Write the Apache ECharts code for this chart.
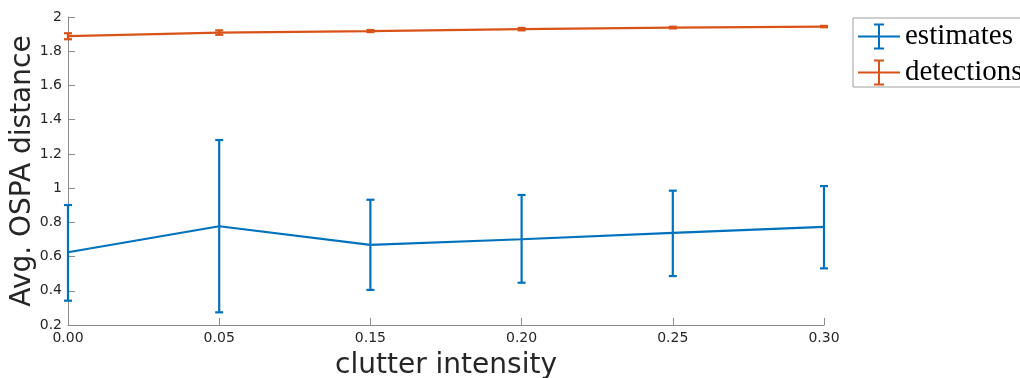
<!DOCTYPE html>
<html>
<head>
<meta charset="utf-8">
<script src="https://cdn.jsdelivr.net/npm/echarts@6/dist/echarts.min.js"></script>
<style>
  html, body { margin: 0; padding: 0; background: #fff; }
  #chart { width: 1020px; height: 378px; }
</style>
</head>
<body>
<div id="chart"></div>
<script>
// Clutter intensity levels (x categories)
const clutter = ['0.00', '0.05', '0.15', '0.20', '0.25', '0.30'];

// Average OSPA distance of the filter estimates, with error-bar limits
const estMean = [0.625, 0.777, 0.668, 0.701, 0.738, 0.773];
const estLow  = [0.342, 0.274, 0.405, 0.447, 0.486, 0.531];
const estHigh = [0.901, 1.281, 0.932, 0.960, 0.985, 1.012];

// Average OSPA distance of the raw detections, with error-bar limits
const detMean = [1.888, 1.909, 1.918, 1.929, 1.938, 1.944];
const detLow  = [1.870, 1.896, 1.912, 1.922, 1.933, 1.940];
const detHigh = [1.905, 1.922, 1.924, 1.936, 1.943, 1.948];

const BLUE = '#0072BD';
const ORANGE = '#D95319';

// Legend glyph: horizontal line crossed by a capped vertical bar
const errIcon = 'path://M0,12h42v2h-42z M20,0h2v26h-2z M16,0h10v2h-10z M16,24h10v2h-10z';

function errorBars(low, high, color, name) {
  return {
    name: name,
    type: 'custom',
    z: 3,
    data: clutter.map((c, i) => [i, low[i], high[i]]),
    renderItem: function (params, api) {
      const x = api.value(0);
      const p0 = api.coord([x, api.value(1)]);
      const p1 = api.coord([x, api.value(2)]);
      const cap = 4;
      const style = { stroke: color, lineWidth: 2.2, fill: null };
      return {
        type: 'group',
        children: [
          { type: 'line', shape: { x1: p0[0], y1: p0[1], x2: p1[0], y2: p1[1] }, style: style },
          { type: 'line', shape: { x1: p0[0] - cap, y1: p0[1], x2: p0[0] + cap, y2: p0[1] }, style: style },
          { type: 'line', shape: { x1: p1[0] - cap, y1: p1[1], x2: p1[0] + cap, y2: p1[1] }, style: style }
        ]
      };
    }
  };
}

const chart = echarts.init(document.getElementById('chart'), null, { renderer: 'canvas' });

chart.setOption({
  animation: false,
  backgroundColor: '#fff',
  grid: { left: 68, right: 196, top: 17, bottom: 53, containLabel: false, outerBoundsMode: 'none' },
  legend: {
    orient: 'vertical',
    left: 853,
    top: 18,
    padding: [4, 8, 0, 5],
    itemGap: 7,
    itemWidth: 42,
    itemHeight: 26,
    borderColor: '#a0a0a0',
    borderWidth: 1,
    backgroundColor: '#fff',
    selectedMode: false,
    textStyle: { fontFamily: 'Liberation Serif', fontSize: 29, color: '#000' },
    data: [
      { name: 'estimates', icon: errIcon, itemStyle: { color: BLUE } },
      { name: 'detections', icon: errIcon, itemStyle: { color: ORANGE } }
    ]
  },
  xAxis: {
    type: 'category',
    data: clutter,
    boundaryGap: false,
    name: 'clutter intensity',
    nameLocation: 'middle',
    nameGap: 27,
    nameMoveOverlap: false,
    nameTextStyle: { fontFamily: 'DejaVu Sans', fontSize: 28, color: '#262626' },
    axisLine: { lineStyle: { color: '#8c8c8c', width: 1 } },
    axisTick: { inside: true, length: 7, alignWithLabel: true, lineStyle: { color: '#8c8c8c' } },
    axisLabel: { fontFamily: 'DejaVu Sans', fontSize: 14, color: '#262626', margin: 6 },
    splitLine: { show: false }
  },
  yAxis: {
    type: 'value',
    min: 0.2,
    max: 2,
    interval: 0.2,
    name: 'Avg. OSPA distance',
    nameLocation: 'middle',
    nameGap: 31,
    nameMoveOverlap: false,
    nameTextStyle: { fontFamily: 'DejaVu Sans', fontSize: 28, color: '#262626' },
    axisLine: { show: true, lineStyle: { color: '#8c8c8c', width: 1 } },
    axisTick: { show: true, inside: true, length: 7, lineStyle: { color: '#8c8c8c' } },
    axisLabel: {
      fontFamily: 'DejaVu Sans', fontSize: 14, color: '#262626', margin: 6,
      formatter: v => String(Math.round(v * 10) / 10)
    },
    splitLine: { show: false }
  },
  series: [
    {
      name: 'estimates',
      type: 'line',
      data: estMean,
      symbol: 'none',
      lineStyle: { color: BLUE, width: 2.2 },
      itemStyle: { color: BLUE },
      z: 4
    },
    errorBars(estLow, estHigh, BLUE, 'estimates'),
    {
      name: 'detections',
      type: 'line',
      data: detMean,
      symbol: 'none',
      lineStyle: { color: ORANGE, width: 2.2 },
      itemStyle: { color: ORANGE },
      z: 4
    },
    errorBars(detLow, detHigh, ORANGE, 'detections')
  ]
});
</script>
</body>
</html>
